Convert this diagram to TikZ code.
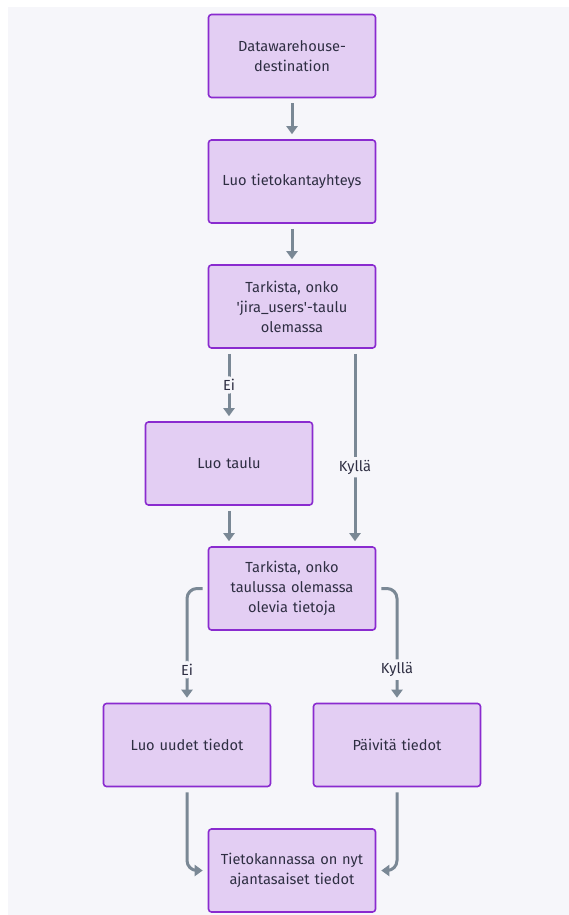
\documentclass[tikz,border=0pt]{standalone}
\usepackage{fontspec}
\setmainfont{Fira Sans}
\usetikzlibrary{arrows.meta}
\definecolor{canvas}{HTML}{F6F6FA}
\definecolor{boxfill}{HTML}{E3CEF3}
\definecolor{boxline}{HTML}{8A2BCF}
\definecolor{flow}{HTML}{7A8895}
\definecolor{ink}{HTML}{2E2E42}
\tikzset{
  stepbox/.style={draw=boxline, fill=boxfill, line width=1.6pt, rounded corners=3pt,
    minimum width=167pt, minimum height=83pt, align=center, text width=155pt,
    font=\fontsize{14.6}{20}\selectfont, text=ink},
  flowline/.style={draw=flow, line width=3pt, rounded corners=10pt,
    -{Triangle[length=8pt,width=11pt]}, shorten <=5pt, shorten >=5pt},
  lbl/.style={fill=canvas, text=ink, font=\fontsize{14.6}{16}\selectfont, inner sep=3pt}
}
\begin{document}
\begin{tikzpicture}[x=1pt,y=-1pt]
  % page and panel
  \fill[white] (0,0) rectangle (569,915);
  \fill[canvas] (8,7) rectangle (569,915);
  \useasboundingbox (0,0) rectangle (569,915);

  % process steps
  \node[stepbox] (dw)     at (292,56)    {Datawarehouse-\\destination};
  \node[stepbox] (conn)   at (292,181.5) {Luo tietokantayhteys};
  \node[stepbox] (chk)    at (292,306.5) {Tarkista, onko\\\textquotesingle jira\_users\textquotesingle-taulu\\olemassa};
  \node[stepbox] (mk)     at (229,463.5) {Luo taulu};
  \node[stepbox] (data)   at (292,588.5) {Tarkista, onko\\taulussa olemassa\\olevia tietoja};
  \node[stepbox] (new)    at (187,745)   {Luo uudet tiedot};
  \node[stepbox] (upd)    at (397,745)   {Päivitä tiedot};
  \node[stepbox] (done)   at (292,870.5) {Tietokannassa on nyt\\ajantasaiset tiedot};

  % connectors
  \draw[flowline] (dw) -- (conn);
  \draw[flowline] (conn) -- (chk);
  \draw[flowline] (mk.north |- chk.south) -- node[lbl, pos=0.5] {Ei} (mk.north);
  \draw[flowline] (chk.south -| 355,0) -- node[lbl, pos=0.6] {Kyllä} (data.north -| 355,0);
  \draw[flowline] (mk.south) -- (mk.south |- data.north);
  \draw[flowline] (data.west) -| node[lbl, pos=0.855] {Ei} (new.north);
  \draw[flowline] (data.east) -| node[lbl, pos=0.855] {Kyllä} (upd.north);
  \draw[flowline] (new.south) |- (done.west);
  \draw[flowline] (upd.south) |- (done.east);
\end{tikzpicture}
\end{document}
